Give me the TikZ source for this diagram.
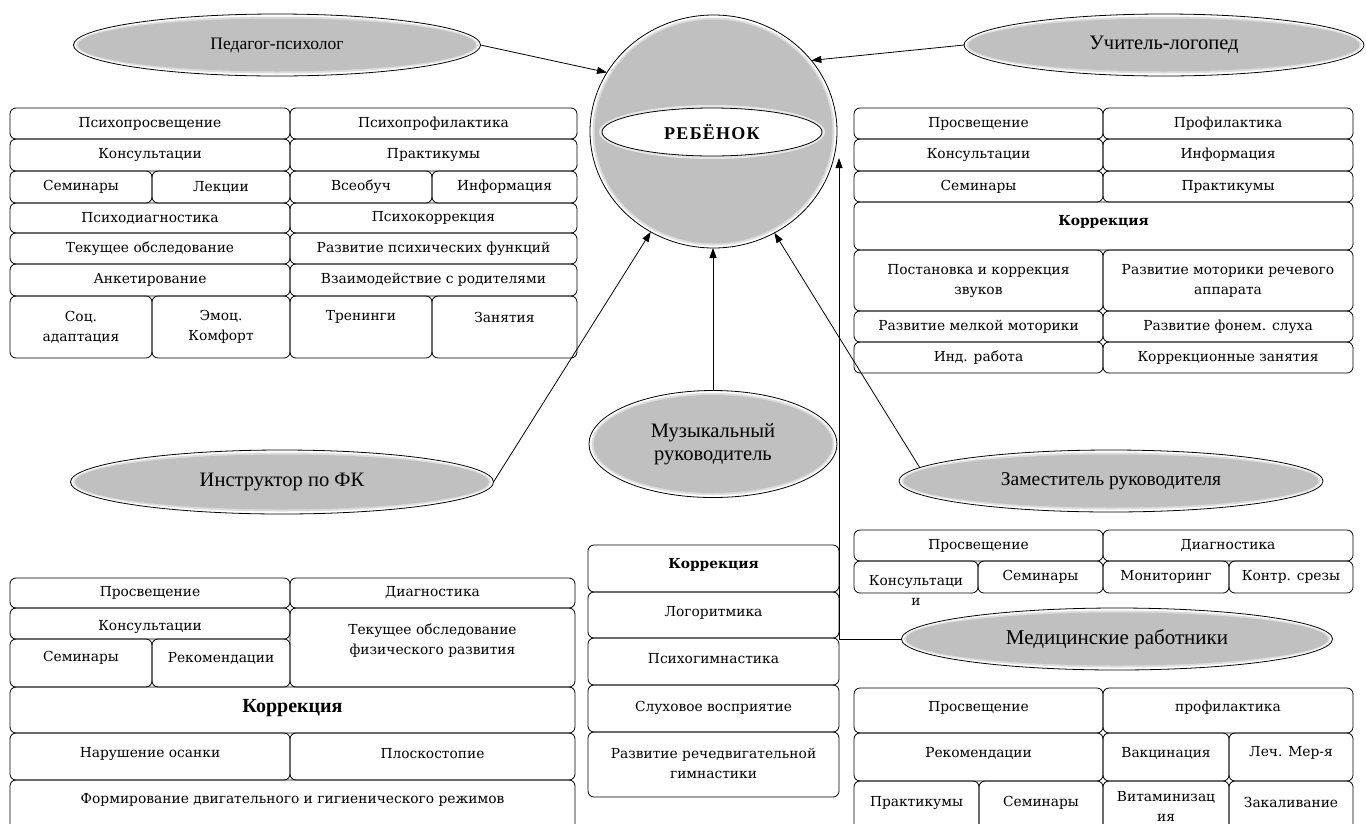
\documentclass[tikz,border=0pt]{standalone}
\usepackage{fontspec}
\setmainfont{DejaVu Serif}
\newfontfamily\ellfont{Liberation Serif}
\newfontfamily\rebfont[LetterSpace=7]{Liberation Serif}
\usetikzlibrary{shapes.geometric,arrows.meta}
\definecolor{ellgray}{RGB}{192,192,192}
\tikzset{
  cellbox/.style={draw, rounded corners=6pt, line width=0.8pt, inner sep=0pt, outer sep=0pt},
  celltext/.style={font=\fontsize{13.8}{20}\selectfont, align=center, inner sep=0pt},
  ellnode/.style={ellipse, draw, line width=0.8pt, inner sep=0pt, outer sep=0pt, align=center},
  arr/.style={line width=0.8pt, -{Triangle[length=10pt,width=7pt]}},
}
\newcommand\cell[7]{%
  \node[cellbox, minimum width={(#4-#2)*1pt}, minimum height={(#5-#3)*1pt}] (#1) at ({(#2+#4)/2},{(#3+#5)/2}) {};
  \node[celltext] (#1t) at ({(#2+#4)/2},{(#3+#5)/2+#6}) {#7};
}
\newcommand\glow[7]{%
  \fill[white] (#2,#3) ellipse [x radius={#4pt/2}, y radius={#5pt/2}];
  \fill[ellgray!55!white] (#2,#3) ellipse [x radius={#4pt/2-2.5pt}, y radius={#5pt/2-2.5pt}];
  \fill[ellgray] (#2,#3) ellipse [x radius={#4pt/2-4.5pt}, y radius={#5pt/2-4.5pt}];
  \node[ellnode, minimum width=#4pt, minimum height=#5pt, font={#6}] (#1) at (#2,#3) {#7};
}
\begin{document}
\begin{tikzpicture}[x=1pt, y=-1pt]
\clip (0,0) rectangle (1366,823);
\fill[white] (0,0) rectangle (1366,823);

% ---- ellipses
\glow{ped}{277}{45}{407}{62}{\ellfont\fontsize{17.5}{20}\selectfont}{Педагог-психолог}
\glow{uch}{1164}{45}{400}{62}{\ellfont\fontsize{20.5}{22}\selectfont}{Учитель-логопед}
\glow{instr}{282}{482}{423}{64}{\ellfont\fontsize{20.5}{22}\selectfont}{Инструктор по ФК}
\glow{mus}{713}{444}{248}{107}{\ellfont\fontsize{20.5}{23}\selectfont}{Музыкальный\\руководитель}
\glow{zam}{1111}{481}{424}{62}{\ellfont\fontsize{19.5}{22}\selectfont}{Заместитель руководителя}
\glow{med}{1117}{639}{431}{62}{\ellfont\fontsize{21}{23}\selectfont}{Медицинские работники}
\glow{child}{713.5}{131.5}{247}{233}{}{}
\fill[ellgray!40!white] (712,132) ellipse [x radius=113pt, y radius=27pt];
\node[ellnode, fill=white, minimum width=220pt, minimum height=48pt,
      font=\rebfont\bfseries\fontsize{18}{20}\selectfont] (reb) at (712,132) {РЕБЁНОК};

% ---- connectors
\draw[arr] (ped.east) -- (child.151);
\draw[arr] (uch.west) -- (child.36);
\draw[arr] (instr.east) -- (child.238);
\draw[arr] (mus.north) -- (mus.north |- child.south);
\draw[arr] (zam.176) -- (child.301);
\coordinate (medcorner) at (839,639);
\coordinate (medtip) at (839,158);
\draw[arr] (med.west) -- (medcorner) -- (medtip);

% ---- left top block
\cell{a1}{10}{108}{290}{139}{0}{Психопросвещение}
\cell{a2}{290}{108}{577}{139}{0}{Психопрофилактика}
\cell{a3}{10}{139}{290}{171}{0}{Консультации}
\cell{a4}{290}{139}{577}{171}{0}{Практикумы}
\cell{a5}{10}{171}{152}{203}{0}{Семинары}
\cell{a6}{152}{171}{290}{203}{0}{Лекции}
\cell{a7}{290}{171}{432}{203}{0}{Всеобуч}
\cell{a8}{432}{171}{577}{203}{0}{Информация}
\cell{a9}{10}{203}{290}{233}{0}{Психодиагностика}
\cell{a10}{290}{203}{577}{233}{0}{Психокоррекция}
\cell{a11}{10}{233}{290}{264}{0}{Текущее обследование}
\cell{a12}{290}{233}{577}{264}{0}{Развитие психических функций}
\cell{a13}{10}{264}{290}{296}{0}{Анкетирование}
\cell{a14}{290}{264}{577}{296}{0}{Взаимодействие с родителями}
\cell{a15}{10}{296}{152}{358}{0}{Соц.\\адаптация}
\cell{a16}{152}{296}{290}{358}{0}{Эмоц.\\Комфорт}
\cell{a17}{290}{296}{432}{358}{-10}{Тренинги}
\cell{a18}{432}{296}{577}{358}{-10}{Занятия}

% ---- right top block
\cell{b1}{854}{108}{1103}{139}{0}{Просвещение}
\cell{b2}{1103}{108}{1353}{139}{0}{Профилактика}
\cell{b3}{854}{139}{1103}{171}{0}{Консультации}
\cell{b4}{1103}{139}{1353}{171}{0}{Информация}
\cell{b5}{854}{171}{1103}{202}{0}{Семинары}
\cell{b6}{1103}{171}{1353}{202}{0}{Практикумы}
\cell{b7}{854}{202}{1353}{250}{-4}{\textbf{Коррекция}}
\cell{b8}{854}{250}{1103}{311}{0}{Постановка и коррекция\\звуков}
\cell{b9}{1103}{250}{1353}{311}{0}{Развитие моторики речевого\\аппарата}
\cell{b10}{854}{311}{1103}{342}{0}{Развитие мелкой моторики}
\cell{b11}{1103}{311}{1353}{342}{0}{Развитие фонем. слуха}
\cell{b12}{854}{342}{1103}{373}{0}{Инд. работа}
\cell{b13}{1103}{342}{1353}{373}{0}{Коррекционные занятия}

% ---- deputy block
\cell{c1}{854}{530}{1103}{561}{0}{Просвещение}
\cell{c2}{1103}{530}{1353}{561}{0}{Диагностика}
\cell{c3}{854}{561}{978}{593}{13}{Консультаци\\и}
\cell{c4}{978}{561}{1103}{593}{0}{Семинары}
\cell{c5}{1103}{561}{1229}{593}{0}{Мониторинг}
\cell{c6}{1229}{561}{1353}{593}{0}{Контр. срезы}

% ---- medical block
\cell{d1}{854}{688}{1103}{733}{-3}{Просвещение}
\cell{d2}{1103}{688}{1353}{733}{-3}{профилактика}
\cell{d3}{854}{733}{1103}{781}{-4}{Рекомендации}
\cell{d4}{1103}{733}{1229}{781}{-4}{Вакцинация}
\cell{d5}{1229}{733}{1353}{781}{-4}{Леч. Мер-я}
\cell{d6}{854}{781}{979}{832}{-4}{Практикумы}
\cell{d7}{979}{781}{1103}{832}{-4}{Семинары}
\cell{d8}{1103}{781}{1229}{832}{0}{Витаминизац\\ия}
\cell{d9}{1229}{781}{1353}{832}{-4}{Закаливание}

% ---- PE block
\cell{e1}{10}{578}{290}{608}{0}{Просвещение}
\cell{e2}{290}{578}{575}{608}{0}{Диагностика}
\cell{e3}{10}{608}{290}{639}{3}{Консультации}
\cell{e4}{290}{608}{575}{687}{-7}{Текущее обследование\\физического развития}
\cell{e5}{10}{639}{152}{687}{-5}{Семинары}
\cell{e6}{152}{639}{290}{687}{-5}{Рекомендации}
\cell{e7}{10}{687}{575}{733}{-2}{{\ellfont\bfseries\fontsize{20}{22}\selectfont Коррекция}}
\cell{e8}{10}{733}{290}{780}{-3}{Нарушение осанки}
\cell{e9}{290}{733}{575}{780}{-3}{Плоскостопие}
\cell{e10}{10}{780}{575}{832}{-6}{Формирование двигательного и гигиенического режимов}

% ---- music block
\cell{m1}{588}{545}{839}{592}{-4}{\textbf{Коррекция}}
\cell{m2}{588}{592}{839}{638}{-2}{Логоритмика}
\cell{m3}{588}{638}{839}{685}{-3}{Психогимнастика}
\cell{m4}{588}{685}{839}{732}{-1}{Слуховое восприятие}
\cell{m5}{588}{732}{839}{797}{-1}{Развитие речедвигательной\\гимнастики}
\end{tikzpicture}
\end{document}
